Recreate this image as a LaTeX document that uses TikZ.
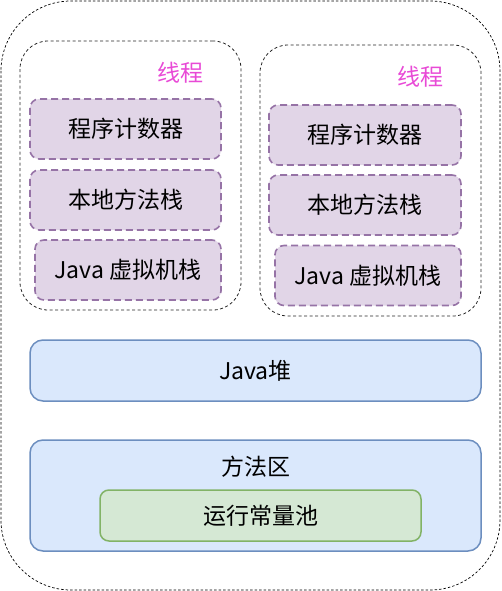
\documentclass[tikz,border=0pt]{standalone}
\usepackage{fontspec}
\setmainfont{Noto Sans CJK SC}
\definecolor{purfill}{HTML}{E1D5E7}
\definecolor{purline}{HTML}{9673A6}
\definecolor{bluefill}{HTML}{DAE8FC}
\definecolor{blueline}{HTML}{6C8EBF}
\definecolor{greenfill}{HTML}{D5E8D4}
\definecolor{greenline}{HTML}{82B366}
\definecolor{threadlbl}{HTML}{E84AD6}
\begin{document}
\begin{tikzpicture}[x=1pt,y=-1pt,
  every node/.style={inner sep=0pt,outer sep=0pt,font=\fontsize{23}{26}\selectfont},
  outerbox/.style={draw=black,line width=0.7pt,dash pattern=on 2.5pt off 2pt,rounded corners=70pt},
  threadbox/.style={draw=black!85,line width=0.8pt,dash pattern=on 3pt off 2.5pt,rounded corners=28pt,rectangle,minimum width=221pt},
  purbox/.style={draw=purline,fill=purfill,line width=1.6pt,dash pattern=on 7pt off 4pt,rounded corners=9pt,rectangle,minimum height=60pt},
  bluebox/.style={draw=blueline,fill=bluefill,line width=1.5pt,rounded corners=13pt,rectangle,minimum width=451pt},
  greenbox/.style={draw=greenline,fill=greenfill,line width=1.5pt,rounded corners=9pt,rectangle},
  threadlabel/.style={text=threadlbl}
]
\useasboundingbox (0,0) rectangle (501,591);
\draw[outerbox] (1,1) rectangle (500,590);

% left thread
\node[threadbox,minimum height=269pt] (lt) at (130.5,175.5) {};
\node[threadlabel] (ltl) at (180,73) {线程};
\node[purbox,minimum width=191pt] (lpc) at (125.5,129) {程序计数器};
\node[purbox,minimum width=191pt] (lns) at (125.5,200) {本地方法栈};
\node[purbox,minimum width=186pt] (ljvm) at (128,270) {Java 虚拟机栈};

% right thread
\node[threadbox,minimum height=271pt] (rt) at (370.5,180.5) {};
\node[threadlabel] (rtl) at (420,77) {线程};
\node[purbox,minimum width=192pt] (rpc) at (365,135) {程序计数器};
\node[purbox,minimum width=192pt] (rns) at (365,205) {本地方法栈};
\node[purbox,minimum width=186pt] (rjvm) at (368,275.5) {Java 虚拟机栈};

% heap and method area
\node[bluebox,minimum height=61pt] (heap) at (255.5,370.5) {Java堆};
\node[bluebox,minimum height=111pt] (ma) at (255.5,495.5) {};
\node (mal) at (256,467) {方法区};
\node[greenbox,minimum width=321pt,minimum height=51pt] (pool) at (260.5,515.5) {运行常量池};
\end{tikzpicture}
\end{document}
